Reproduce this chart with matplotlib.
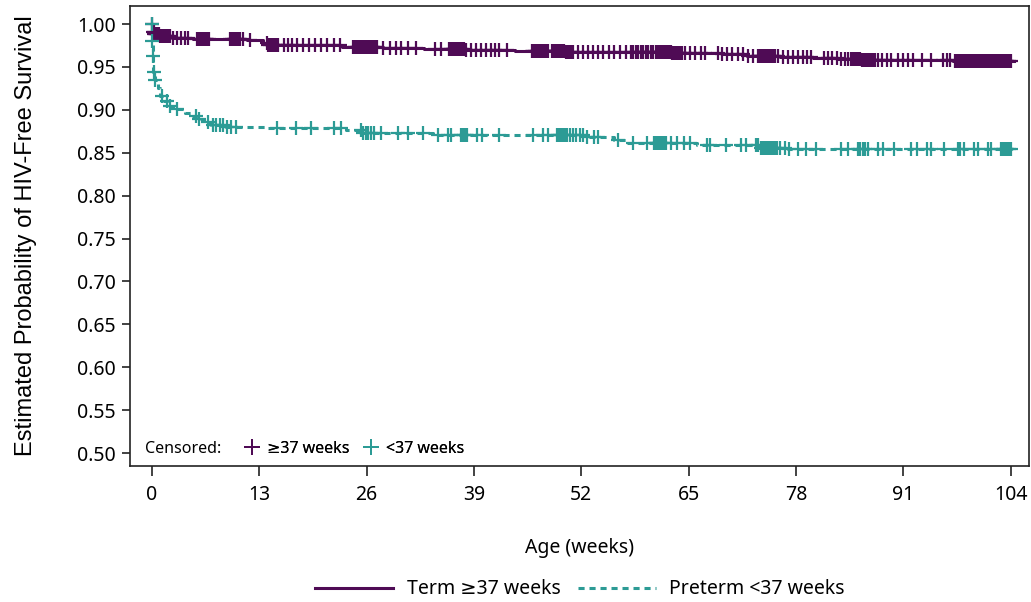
import numpy as np
import matplotlib.pyplot as plt
from matplotlib.lines import Line2D

plt.rcParams['font.family'] = ['Noto Sans', 'DejaVu Sans']

purple = '#4f0b55'
teal = '#2c9b95'

# Kaplan-Meier steps (weeks, survival)
term_t = [0, 0.02, 0.1, 0.3, 1.0, 2.4, 5.0, 8.0, 11.5, 13.5, 14.0, 19, 23, 28,
          33, 38, 44, 50, 56, 63, 69, 72, 76, 80, 83, 86, 97]
term_s = [1.0, 0.995, 0.991, 0.988, 0.986, 0.984, 0.983, 0.982, 0.981, 0.978,
          0.976, 0.975, 0.973, 0.972, 0.971, 0.970, 0.969, 0.968, 0.967, 0.966,
          0.965, 0.963, 0.962, 0.961, 0.959, 0.958, 0.957]

pre_t = [0, 0.03, 0.08, 0.15, 0.35, 0.7, 1.0, 1.5, 2.0, 2.6, 4.0, 5.0, 5.6, 6.3,
         7.2, 9.0, 14.0, 23.5, 25.5, 34.0, 52.5, 56.0, 57.5, 66.0, 73.5, 77.0]
pre_s = [1.0, 0.980, 0.963, 0.944, 0.935, 0.925, 0.916, 0.910, 0.904, 0.901,
         0.896, 0.893, 0.889, 0.886, 0.882, 0.880, 0.879, 0.876, 0.873, 0.871,
         0.868, 0.865, 0.861, 0.859, 0.856, 0.854]

end_week = 104.4

# censoring times
term_cens = [0.0, 0.1, 0.2, 0.3, 0.4, 0.5, 0.6, 0.8, 1.0, 1.2, 1.4, 1.6, 1.8, 2.0,
             2.2, 2.6, 3.0, 3.5, 4.0, 4.4, 5.5, 5.7, 5.9, 6.1, 6.3, 6.5, 6.7, 6.9,
             9.5, 9.7, 9.9, 10.1, 10.3, 10.5, 10.7, 11.0, 11.9, 13.9, 14.1, 14.3,
             14.5, 14.7, 14.9, 15.1, 15.3, 16.0, 16.5, 17.0, 17.6, 18.3, 19.0,
             19.8, 20.5, 21.2, 22.0, 22.8, 24.4, 24.6, 24.8, 25.0, 25.2, 25.4,
             25.6, 25.8, 26.0, 26.2, 26.4, 26.6, 26.8, 27.0, 27.3, 28.0, 28.8,
             29.5, 30.2, 31.0, 32.0, 34.3, 35.0, 36.0, 36.2, 36.4, 36.6, 36.8,
             37.0, 37.2, 37.4, 37.6, 37.8, 38.0, 38.6, 39.2, 39.8, 40.4, 41.0,
             41.6, 42.0, 43.0, 46.0, 46.2, 46.4, 46.6, 46.8, 47.0, 47.2, 47.4,
             47.6, 47.8, 48.0, 48.5, 48.7, 48.9, 49.1, 49.3, 49.5, 49.7, 49.9,
             50.1, 50.3, 50.5, 50.7, 51.0, 51.6, 52.2, 52.8, 53.4, 54.0, 54.6,
             55.3, 56.0, 56.7, 57.4, 58.0, 58.3, 58.6, 58.9, 59.2, 59.5, 59.8,
             60.1, 60.4, 60.7, 61.0, 61.2, 61.4, 61.6, 61.8, 62.0, 62.2, 62.4,
             62.6, 62.8, 63.0, 63.2, 63.4, 63.6, 63.8, 64.0, 64.2, 64.5, 65.2,
             65.8, 66.5, 67.0, 68.5, 69.0, 69.6, 70.2, 71.0, 71.6, 72.2, 72.8,
             73.4, 73.5, 73.7, 73.9, 74.1, 74.3, 74.5, 74.7, 74.9, 75.1, 75.3,
             75.5, 75.8, 76.4, 77.0, 77.6, 78.2, 78.8, 79.3, 79.8, 81.4, 81.9,
             82.4, 82.9, 83.4, 83.9, 84.3, 84.6, 84.8, 85.0, 85.2, 85.4, 85.6,
             85.8, 86.0, 86.2, 86.4, 86.6, 86.8, 87.0, 87.2, 87.4, 87.6, 87.9,
             88.4, 89.0, 89.5, 90.3, 90.9, 91.5, 92.2, 93.2, 94.3, 95.8, 96.3,
             96.7, 97.3, 97.5, 97.7, 97.9, 98.1, 98.3, 98.5, 98.7, 98.9, 99.1,
             99.3, 99.5, 99.7, 99.9, 100.1, 100.3, 100.5, 100.7, 101.0, 101.2,
             101.4, 101.6, 101.8, 102.0, 102.2, 102.4, 102.6, 102.8, 103.0,
             103.2, 103.4, 103.6, 103.8, 104.0]

pre_cens = [0.0, 0.05, 0.1, 0.2, 0.4, 1.2, 1.8, 2.2, 3.0, 5.3, 5.7, 6.8, 7.4,
            7.8, 8.2, 8.6, 9.1, 9.6, 10.2, 15.1, 17.4, 19.2, 22.0, 22.9, 25.3,
            25.6, 25.9, 26.2, 26.5, 26.9, 27.7, 29.8, 31.0, 32.8, 34.6, 35.8,
            36.2, 37.4, 37.6, 37.8, 38.0, 38.2, 39.4, 40.0, 42.0, 46.2, 47.4,
            48.0, 49.0, 49.2, 49.4, 49.6, 49.8, 50.0, 50.3, 50.6, 51.0, 51.4,
            51.8, 52.2, 52.7, 53.5, 54.0, 56.4, 58.3, 60.0, 60.8, 61.0, 61.2,
            61.4, 61.6, 61.8, 62.0, 62.3, 62.8, 63.6, 64.4, 65.2, 67.2, 67.6,
            69.5, 71.3, 71.9, 73.1, 73.4, 73.7, 73.9, 74.1, 74.3, 74.5, 74.7,
            74.9, 75.1, 75.3, 75.5, 75.7, 76.1, 76.7, 77.1, 78.2, 79.2, 80.4,
            83.4, 84.3, 85.5, 85.8, 86.1, 86.4, 86.7, 87.9, 88.5, 89.8, 91.9,
            92.7, 93.9, 94.3, 95.9, 97.6, 97.9, 98.3, 99.5, 100.0, 101.2, 101.6,
            102.8, 103.0, 103.2, 103.4, 103.6, 103.8, 104.0]


def at_step(t, s, x):
    # survival value of the step function at times x
    idx = np.searchsorted(t, x, side='right') - 1
    return np.asarray(s)[idx]


fig = plt.figure(figsize=(10.31, 6.02), dpi=100)
ax = fig.add_axes([0.1261, 0.2259, 0.8719, 0.7641])

# curves
ax.plot(term_t + [end_week], term_s + [term_s[-1]], drawstyle='steps-post',
        color=purple, lw=2.2, zorder=3)
ax.plot(pre_t + [end_week], pre_s + [pre_s[-1]], drawstyle='steps-post',
        color=teal, lw=2.2, dashes=(2.0, 1.6), zorder=3)

# censor marks
ax.plot(term_cens, at_step(term_t, term_s, term_cens), ls='none', marker='+',
        ms=9.5, mew=1.6, color=purple, zorder=4)
ax.plot(pre_cens, at_step(pre_t, pre_s, pre_cens), ls='none', marker='+',
        ms=9.5, mew=1.6, color=teal, zorder=4)

ax.set_xlim(-2.66, 106.2)
ax.set_ylim(0.485, 1.021)
ax.set_xticks(np.arange(0, 105, 13))
ax.set_yticks(np.arange(0.50, 1.001, 0.05))
ax.set_yticklabels(['%.2f' % v for v in np.arange(0.50, 1.001, 0.05)])
ax.tick_params(axis='both', labelsize=14, width=1.2, color='#222222')
ax.tick_params(axis='y', length=6, pad=4)
ax.tick_params(axis='x', length=7.5, pad=6)
for sp in ax.spines.values():
    sp.set_linewidth(1.2)
    sp.set_color('#222222')

ax.set_xlabel('Age (weeks)', fontsize=14)
ax.xaxis.set_label_coords(0.5, -0.157)
ax.set_ylabel('Estimated Probability of HIV-Free Survival', fontsize=17,
              family=['Liberation Sans', 'DejaVu Sans'])
ax.yaxis.set_label_coords(-0.104, 0.5)

# censored key inside the axes
ax.text(0.0167, 0.037, 'Censored:', transform=ax.transAxes, fontsize=11.5,
        va='center', ha='left')
cens_handles = [Line2D([], [], ls='none', marker='+', ms=11, mew=1.4, color=purple),
                Line2D([], [], ls='none', marker='+', ms=11, mew=1.4, color=teal)]
leg1 = ax.legend(cens_handles, ['\u226537 weeks', '<37 weeks'], ncol=2,
                 loc='center left', bbox_to_anchor=(0.127, 0.037), frameon=False,
                 fontsize=11.5, handlelength=1.0, handletextpad=0.4,
                 columnspacing=0.9, borderpad=0, borderaxespad=0)
ax.add_artist(leg1)

# line key below
line_handles = [Line2D([], [], color=purple, lw=2.2),
                Line2D([], [], color=teal, lw=2.2, dashes=(2.0, 1.6))]
fig.legend(line_handles, ['Term \u226537 weeks', 'Preterm <37 weeks'], ncol=2,
           loc='center', bbox_to_anchor=(0.5626, 0.021), frameon=False,
           fontsize=14, handlelength=4.0, handletextpad=0.7, columnspacing=0.9)

fig.savefig('out.png', dpi=100)
